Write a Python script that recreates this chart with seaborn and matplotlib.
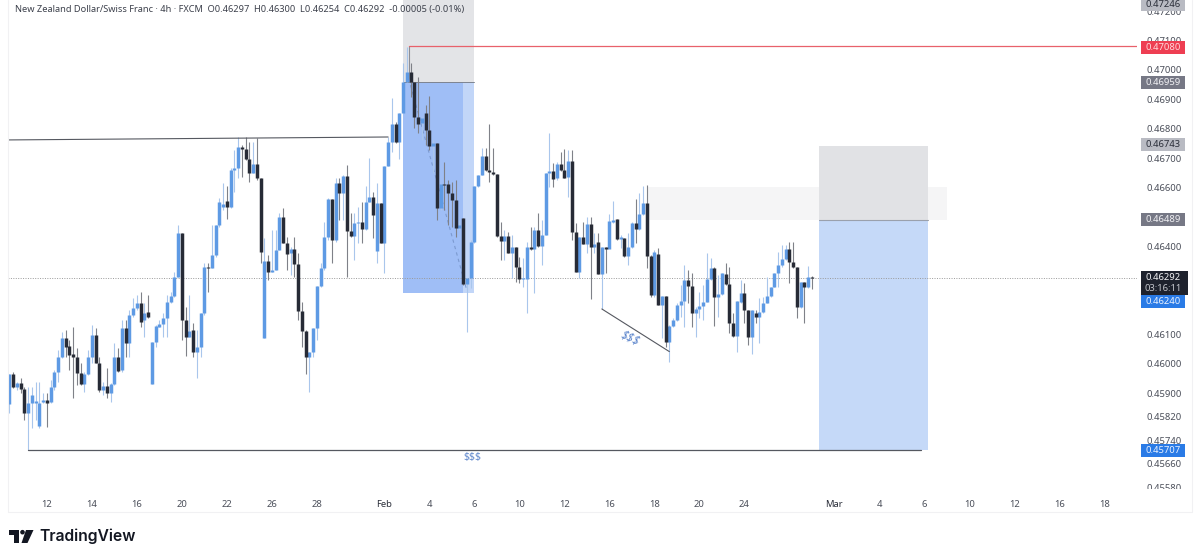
import numpy as np
import pandas as pd
import matplotlib
matplotlib.use("Agg")
import matplotlib.pyplot as plt
from matplotlib.patches import Rectangle, Polygon, Circle
import seaborn as sns

# NZD/CHF 4h candles, price in 0.00001 units
opens = [
    45864,45966,45920,45934,45914,45832,45866,45868,45789,45872,
    45877,45872,45920,45974,46025,46087,46061,46034,46025,45968,
    45931,45966,46025,46099,46004,45911,45925,45902,45931,46025,
    45980,46123,46070,46167,46189,46206,46150,46178,45932,46074,
    46127,46136,46155,46212,46231,46297,46447,46150,46093,46116,
    46042,46059,46172,46331,46327,46371,46473,46535,46554,46535,
    46660,46666,46739,46732,46696,46651,46680,46632,46087,46350,
    46314,46320,46388,46501,46410,46376,46390,46340,46180,46112,
    46023,46042,46121,46266,46325,46431,46560,46420,46617,46583,
    46639,46453,46435,46481,46484,46458,46552,46567,46385,46546,
    46413,46675,46756,46816,46756,46853,46960,46992,46960,46839,
    46818,46855,46796,46741,46750,46529,46612,46611,46583,46558,
    46461,46495,46272,46291,46416,46605,46643,46707,46660,46652,
    46645,46436,46419,46436,46379,46397,46331,46288,46288,46399,
    46391,46456,46402,46439,46648,46657,46631,46680,46660,46635,
    46692,46448,46314,46431,46408,46476,46397,46414,46306,46399,
    46391,46484,46492,46424,46427,46367,46397,46478,46459,46510,
    46549,46368,46234,46374,46200,46231,46076,46129,46150,46201,
    46215,46284,46265,46172,46186,46197,46212,46288,46325,46227,
    46238,46306,46272,46138,46095,46212,46243,46184,46090,46172,
    46161,46175,46206,46231,46261,46308,46337,46356,46392,46346,
    46329,46192,46280,46261,46297,
]
highs = [
    45966,45974,45940,45951,45923,45923,45923,45940,45940,45900,
    45900,45945,45980,46048,46110,46116,46082,46125,46053,46002,
    45974,46048,46133,46121,46025,45940,45985,45934,46070,46053,
    46150,46150,46184,46223,46235,46246,46206,46235,46074,46133,
    46150,46172,46235,46246,46314,46473,46447,46195,46235,46138,
    46116,46172,46342,46342,46473,46473,46563,46615,46605,46666,
    46728,46771,46745,46773,46756,46756,46768,46632,46427,46371,
    46456,46456,46512,46529,46433,46399,46433,46376,46212,46116,
    46042,46121,46266,46342,46484,46563,46560,46632,46632,46643,
    46677,46512,46512,46535,46552,46605,46700,46586,46615,46546,
    46675,46773,46904,46824,46853,47023,47078,47024,46960,46977,
    46841,46881,46911,46762,46750,46612,46688,46626,46620,46626,
    46490,46495,46291,46422,46605,46643,46733,46733,46816,46733,
    46645,46484,46456,46450,46439,46397,46365,46359,46416,46467,
    46467,46512,46490,46648,46787,46682,46688,46722,46730,46728,
    46728,46481,46433,46484,46501,46501,46444,46447,46399,46399,
    46509,46555,46492,46439,46427,46447,46484,46561,46580,46606,
    46609,46371,46388,46393,46231,46231,46133,46155,46206,46269,
    46337,46320,46308,46195,46246,46269,46379,46359,46331,46303,
    46308,46342,46331,46172,46215,46286,46274,46184,46184,46184,
    46223,46229,46295,46263,46308,46382,46405,46405,46416,46416,
    46329,46280,46280,46333,46300,
]
lows = [
    45832,45917,45911,45900,45809,45707,45782,45809,45781,45866,
    45787,45866,45911,45940,46019,46025,45980,45883,45928,45928,
    45906,45962,46002,46002,45906,45894,45883,45872,45928,45974,
    45974,46025,46025,46161,46184,46127,46093,46155,45932,46059,
    46127,46093,46093,46206,46229,46297,46082,46027,46093,46025,
    45951,46025,46167,46246,46325,46365,46467,46524,46492,46529,
    46586,46632,46637,46694,46620,46648,46626,46342,46087,46286,
    46314,46320,46388,46410,46320,46303,46297,46150,46059,45966,
    45906,46025,46082,46263,46320,46422,46342,46416,46490,46490,
    46297,46433,46354,46410,46410,46456,46552,46427,46345,46410,
    46308,46675,46722,46750,46696,46853,46960,46909,46802,46784,
    46762,46745,46728,46648,46490,46524,46524,46473,46467,46433,
    46456,46269,46110,46257,46410,46603,46643,46657,46620,46643,
    46433,46354,46354,46376,46291,46280,46274,46263,46172,46388,
    46240,46399,46337,46439,46603,46603,46626,46657,46631,46569,
    46422,46314,46291,46408,46376,46220,46376,46306,46186,46308,
    46393,46478,46422,46393,46365,46337,46393,46410,46456,46507,
    46325,46229,46229,46200,46087,46059,46005,46127,46147,46161,
    46127,46206,46125,46093,46155,46150,46212,46286,46129,46161,
    46235,46269,46104,46093,46042,46206,46138,46065,46034,46138,
    46070,46172,46206,46229,46261,46263,46331,46354,46274,46325,
    46155,46189,46138,46257,46254,
]
closes = [
    45966,45920,45936,45914,45832,45866,45894,45875,45868,45877,
    45866,45920,45974,46025,46087,46059,46030,46025,45968,45931,
    45966,46025,46099,46004,45911,45925,45902,45931,46025,45977,
    46123,46070,46167,46189,46206,46144,46172,46159,46074,46129,
    46136,46155,46212,46231,46297,46447,46150,46093,46113,46042,
    46059,46172,46331,46325,46371,46473,46552,46544,46535,46660,
    46666,46739,46732,46696,46651,46680,46632,46382,46350,46314,
    46320,46388,46501,46410,46374,46390,46340,46180,46112,46023,
    46042,46121,46266,46325,46431,46560,46420,46615,46583,46639,
    46453,46435,46481,46484,46458,46552,46567,46507,46546,46413,
    46675,46756,46816,46756,46853,46960,46992,46960,46839,46816,
    46836,46796,46741,46750,46529,46612,46609,46583,46558,46461,
    46473,46272,46291,46416,46605,46643,46707,46660,46652,46645,
    46436,46419,46436,46379,46397,46331,46288,46291,46397,46391,
    46456,46402,46439,46648,46657,46628,46680,46660,46633,46692,
    46448,46314,46431,46408,46476,46397,46408,46306,46399,46391,
    46486,46490,46425,46431,46367,46397,46478,46459,46510,46546,
    46368,46234,46382,46200,46231,46076,46129,46150,46201,46215,
    46284,46265,46172,46186,46197,46212,46288,46325,46227,46238,
    46308,46272,46138,46095,46215,46243,46184,46090,46184,46161,
    46175,46206,46231,46261,46308,46337,46356,46392,46346,46329,
    46192,46280,46261,46297,46292,
]

title = ("New Zealand Dollar/Swiss Franc · 4h · FXCM  O0.46297  H0.46300  "
         "L0.46254  C0.46292  -0.00005 (-0.01%)")

xtick_pos = [10, 22, 34, 46, 58, 70, 82, 100, 112, 124, 136, 148, 160, 172, 184, 196,
             220, 232, 244, 256, 268, 280, 292]
xtick_labels = ["12", "14", "16", "20", "22", "26", "28", "Feb", "4", "6", "10", "12",
                "16", "18", "20", "24", "Mar", "4", "6", "10", "12", "16", "18"]
ytick_prices = [0.472, 0.471, 0.470, 0.469, 0.468, 0.467, 0.466, 0.464, 0.461, 0.460,
                0.459, 0.4582, 0.4574, 0.4566, 0.4558]

# price tags on the right scale: text, where it sits, fill, text colour
tag_labels = ["0.47246", "0.47080", "0.46959", "0.46743", "0.46489", "0.46240", "0.45707"]
tag_prices = [0.47223, 0.47077, 0.46957, 0.46745, 0.46491, 0.46211, 0.45704]
tag_fills = ["#b9bbc3", "#ee3e52", "#767885", "#b9bbc3", "#767885", "#2a7be6", "#2a7be6"]
tag_texts = ["#2a2e39", "#ffd9dc", "#f2f2f5", "#2a2e39", "#f2f2f5", "#eaf2ff", "#eaf2ff"]

sns.set_style("white")
plt.rcParams["font.family"] = ["Noto Sans", "DejaVu Sans"]

fig = plt.figure(figsize=(12, 5.6), dpi=100)
ax = fig.add_axes([8 / 1200, 1 - 488 / 560, 1129 / 1200, 488 / 560])

df = pd.DataFrame({"i": np.arange(len(opens)), "o": opens, "h": highs, "l": lows, "c": closes})
df[["o", "h", "l", "c"]] = df[["o", "h", "l", "c"]] / 1e5
df["side"] = np.where(df["c"] >= df["o"], "up", "down")

# one row per line end, so seaborn draws each wick and body as its own line
wicks = df.melt(id_vars=["i", "side"], value_vars=["h", "l"], value_name="price")
bodies = df.melt(id_vars=["i", "side"], value_vars=["o", "c"], value_name="price")

# zones and levels, under the candles
ax.add_patch(Rectangle((105, 0.46959), 19, 0.0032, color="#e3e4e7", lw=0, zorder=0))
ax.add_patch(Rectangle((105, 0.46240), 19, 0.00719, color="#c2d6f8", lw=0, zorder=0))
ax.add_patch(Rectangle((105, 0.46240), 16, 0.00719, color="#9fbef6", lw=0, zorder=0.1))
ax.add_patch(Rectangle((170, 0.46489), 80, 0.00112, color="#f5f5f6", lw=0, zorder=0))
ax.add_patch(Rectangle((216, 0.46489), 29, 0.00254, color="#e1e2e5", lw=0, zorder=0.2))
ax.add_patch(Rectangle((216, 0.45707), 29, 0.00782, color="#c5d9f8", lw=0, zorder=0.2))
ax.plot([105, 124], [0.46959, 0.46959], color="#7d8490", lw=0.7, zorder=0.3)
ax.plot([216, 245], [0.46489, 0.46489], color="#9aa0ac", lw=0.8, zorder=0.3)
ax.axhline(0.46292, color="#9a9a9a", lw=0.7, ls=(0, (1, 1.5)), zorder=0.4)

sns.lineplot(data=wicks, x="i", y="price", hue="side", units="i", estimator=None, sort=False,
             palette={"up": "#a9c6ec", "down": "#7f8188"}, linewidth=0.8, legend=False,
             solid_capstyle="butt", ax=ax, zorder=1)
sns.lineplot(data=bodies, x="i", y="price", hue="side", units="i", estimator=None, sort=False,
             palette={"up": "#5e9ae4", "down": "#272b36"}, linewidth=2.5, legend=False,
             solid_capstyle="butt", ax=ax, zorder=2)

# drawings on top of the candles
ax.plot([106.5, 106.5], [0.47080, 0.46959], color="#8d8f97", lw=0.8, zorder=0.6)
ax.plot([106.5, 300.7], [0.47080, 0.47080], color="#e8616b", lw=0.9, zorder=3)
ax.plot([-0.35, 101], [0.46762, 0.46772], color="#555860", lw=0.8, zorder=3)
ax.plot([5, 243], [0.45707, 0.45707], color="#555860", lw=0.9, zorder=3)
ax.plot([158, 176], [0.46187, 0.46042], color="#555860", lw=0.8, zorder=3)
ax.plot([106.5, 122], [0.46970, 0.46250], color="#7c9ad0", lw=0.8, ls=(0, (3, 3)), zorder=0.7)
ax.text(165.5, 0.46088, "$$$", color="#5d86cc", fontsize=8.5, rotation=-25, style="italic",
        ha="center", va="center", zorder=4)
ax.text(123.5, 0.45682, "$$$", color="#5d86cc", fontsize=7.5, ha="center", va="center", zorder=4)

ax.set_xlim(-0.35, 300.7)
ax.set_ylim(0.45578, 0.47238)
ax.set_xticks(xtick_pos)
ax.set_xticklabels(xtick_labels)
ax.set_yticks(ytick_prices)
ax.set_yticklabels([f"{p:.5f}" for p in ytick_prices])
ax.yaxis.tick_right()
ax.set_xlabel("")
ax.set_ylabel("")
ax.tick_params(axis="x", length=0, pad=8.5, labelsize=6.8, labelcolor="#4a4e59")
ax.tick_params(axis="y", length=0, pad=7, labelsize=6.8, labelcolor="#4a4e59")
for lab in ax.get_xticklabels():
    if lab.get_text() in ("Feb", "Mar"):
        lab.set_fontweight("bold")
        lab.set_color("#2a2e39")
sns.despine(ax=ax, left=True, bottom=True, right=True, top=True)

# price tags, x runs past the plot area so no clipping
tag_x0, tag_w = 301.8, 11.7
tag_h = 0.00044
ax.add_patch(Rectangle((tag_x0, 0.46235), 12.5, 0.00081, color="#1e222d", lw=0, clip_on=False, zorder=5))
ax.text(tag_x0 + tag_w / 2, 0.46293, "0.46292", color="#f4f4f6", fontsize=6.8, ha="center",
        va="center", clip_on=False, zorder=6)
ax.text(tag_x0 + tag_w / 2, 0.46256, "03:16:11", color="#c4c6cc", fontsize=6.8, ha="center",
        va="center", clip_on=False, zorder=6)
for lab, p, fill, col in zip(tag_labels, tag_prices, tag_fills, tag_texts):
    ax.add_patch(Rectangle((tag_x0, p - tag_h / 2), tag_w, tag_h, color=fill, lw=0, clip_on=False, zorder=7))
    ax.text(tag_x0 + tag_w / 2, p, lab, color=col, fontsize=6.8, ha="center", va="center",
            clip_on=False, zorder=8)

# frame, header and logo in pixel coordinates
over = fig.add_axes([0, 0, 1, 1], zorder=10)
over.set_xlim(0, 1200)
over.set_ylim(560, 0)
over.axis("off")
over.patch.set_alpha(0)
over.add_patch(Rectangle((1139, 488.5), 52, 22, color="white", lw=0))
over.plot([8, 8, 1192, 1192], [0, 512, 512, 0], color="#f1f1f3", lw=0.8)
over.text(15, 9.5, title, color="#3c404b", fontsize=6.65, va="center", ha="left")

over.add_patch(Polygon([(9, 530), (19, 530), (19, 543), (14, 543), (14, 534.5), (9, 534.5)], color="#131722", lw=0))
over.add_patch(Circle((22.5, 532.2), 2.3, color="#131722", lw=0))
over.add_patch(Polygon([(26, 530), (33.5, 530), (27.5, 543), (21.5, 543)], color="#131722", lw=0))
over.text(39, 536.5, "TradingView", color="#131722", fontsize=11.3, fontfamily="Inter",
          fontweight="semibold", va="center", ha="left")

fig.savefig("out.png", dpi=100)
